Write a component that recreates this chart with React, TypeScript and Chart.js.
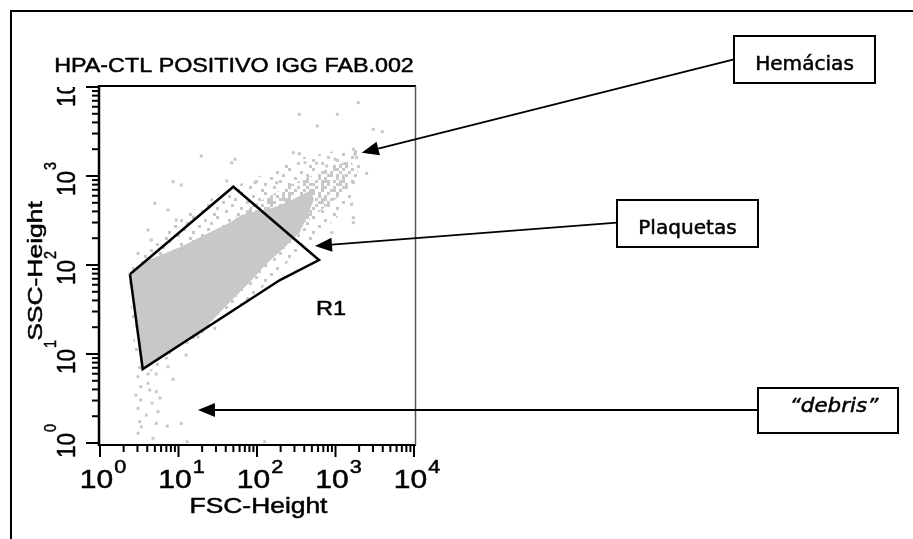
import React, { useEffect, useRef } from "react";
import { Chart, registerables } from "chart.js";

Chart.register(...registerables);

// ---------- texts ----------
const TITLE = "HPA-CTL POSITIVO IGG FAB.002";
const X_TITLE = "FSC-Height";
const Y_TITLE = "SSC-Height";
const GATE_LABEL = "R1";
const TICK_BASE = "10";
const DECADE_EXPONENTS = [0, 1, 2, 3, 4];
const MINOR_MULTIPLIERS = [2, 3, 4, 5, 6, 7, 8, 9];
const AXIS_MIN = 1;
const AXIS_MAX = 10000;

// ---------- gate R1 (FSC, SSC channel values) ----------
const GATE_FSC = [2.41, 49.9, 616, 196, 3.5];
const GATE_SSC = [78.6, 758, 113.8, 67.8, 6.78];
const GATE_LABEL_FSC = 877;
const GATE_LABEL_SSC = 27.4;

// ---------- event cloud ----------
// dense core of the platelet population
const CORE_FSC = [2.45, 4.09, 6.67, 10.9, 17.7, 28.9, 47.1, 63.1, 93.5, 152, 225, 333, 492, 532, 353, 227, 127, 81.4, 48.0, 18.8, 7.8, 3.38];
const CORE_SSC = [75.2, 114, 135, 161, 200, 247, 307, 365, 397, 434, 493, 585, 696, 537, 235, 159, 100, 64.4, 40.4, 17.2, 10.5, 6.61];
// medium-density band towards the red cells
const BAND_FSC = [54.0, 116, 263, 635, 1531, 1935, 1321, 735, 409, 263, 147, 81.4];
const BAND_SSC = [355, 537, 792, 1109, 1513, 1109, 661, 448, 289, 191, 120, 83.4];
// sparse halo around the population
const HALO_FSC = [2.27, 5.02, 14.0, 39.1, 94.3, 353, 1141, 2051, 2051, 1321, 598, 263, 109, 39.1, 14.0, 4.34, 2.87];
const HALO_SSC = [83.4, 191, 394, 696, 950, 1593, 1959, 1959, 902, 415, 217, 114, 52.4, 25.4, 13.6, 6.28, 6.28];
// individual scattered events
const EVENT_FSC = [
  1950, 346, 1054, 586, 3033, 3945, 1686, 1772, 1862, 290, 346, 52.5, 47.6, 409, 576, 773, 986, 1389, 2496, 1257,
  41.1, 94.3, 178, 1686, 1608, 1686, 1686, 895, 19.5, 8.51, 10.85, 4.98, 7.35, 4.09, 4.5, 3.05, 9.37,
  12.5, 17.7, 23.8, 28.9, 8.51, 7.35, 3.05, 4.09, 5.21, 3.3, 4.09, 4.3, 5.21, 3.3, 3.05, 3.89, 5.48, 3.2, 3.36,
  5.21, 7.2, 10.85, 3.05, 4.73, 12.9, 125, 2.87, 4.6, 5.81,
];
const EVENT_SSC = [
  6668, 4933, 4933, 3647, 3350, 3147, 1995, 1754, 1606, 1828, 1782, 1541, 1410, 1410, 1390, 1295, 1541, 1295, 1072, 1000,
  879, 841, 841, 841, 481, 340, 299, 231, 1678, 863, 792, 493, 415, 247, 191, 135, 320,
  9.75, 15.6, 21.2, 19.4, 5.2, 7.2, 5.56, 5.96, 5.96, 4.29, 4.69, 3.94, 3.77, 3.04, 2.45, 2.06, 2.25, 1.74, 1.52,
  1.66, 1.55, 1.66, 1.29, 1.13, 1.03, 1.03, 3.46, 2.81, 3.2,
];

// ---------- annotations ----------
const NOTE_TEXTS = ["Hemácias", "Plaquetas", "\u201Cdebris\u201D"];
const NOTE_TARGET_FSC = [2158, 548, 17.7];
const NOTE_TARGET_SSC = [1828, 163.4, 2.35];

// layout of the annotation boxes (pixels)
const NOTE_BOXES = [
  { x: 734, y: 36, w: 141, h: 47, anchorY: 59.3, baseline: 69.5, italic: false, sx: 1.03, dx: 0 },
  { x: 617, y: 200, w: 141, h: 47, anchorY: 222.7, baseline: 233.5, italic: false, sx: 1.03, dx: 0 },
  { x: 758, y: 388, w: 140, h: 45, anchorY: 410, baseline: 412, italic: true, sx: 1.1, dx: 6 },
];

const GRAY = "#c8c8c8";
const SANS = "'Liberation Sans', Arial, sans-serif";
const NOTE_FONT = "'DejaVu Sans', Verdana, sans-serif";

const BAND_TILE = ["X..X.X", ".X...X", "X..X..", "..X..X", ".X..X.", "X...X."];
const HALO_TILE = ["X.......", "....X...", "......X.", "..X.....", ".....X..", "X.......", "...X....", ".......X"];

function toPoints(xs: number[], ys: number[]) {
  return xs.map((x, i) => ({ x, y: ys[i] }));
}
function closed(pts: { x: number; y: number }[]) {
  return [...pts, pts[0]];
}

function makePattern(ctx: CanvasRenderingContext2D, rows: string[], cell: number, color: string) {
  const c = document.createElement("canvas");
  c.width = rows[0].length * cell;
  c.height = rows.length * cell;
  const g = c.getContext("2d")!;
  g.fillStyle = color;
  rows.forEach((r, j) =>
    r.split("").forEach((ch, i) => {
      if (ch === "X") g.fillRect(i * cell, j * cell, cell, cell);
    })
  );
  return ctx.createPattern(c, "repeat") || color;
}

function paint(ctx: CanvasRenderingContext2D, s: string, x: number, y: number) {
  ctx.fillText(s, x, y);
  ctx.strokeText(s, x, y);
}

function drawText(
  ctx: CanvasRenderingContext2D,
  s: string,
  x: number,
  y: number,
  font: string,
  sx = 1,
  rot = 0,
  align: CanvasTextAlign = "center"
) {
  ctx.save();
  ctx.translate(x, y);
  if (rot) ctx.rotate(rot);
  ctx.scale(sx, 1);
  ctx.font = font;
  ctx.textAlign = align;
  ctx.textBaseline = "alphabetic";
  ctx.fillStyle = "#000";
  ctx.strokeStyle = "#000";
  ctx.lineWidth = 0.5;
  paint(ctx, s, 0, 0);
  ctx.restore();
}

function drawPower(
  ctx: CanvasRenderingContext2D,
  exp: number,
  x: number,
  y: number,
  rot: number,
  sx: number,
  baseFont: string,
  expFont: string,
  raise: number
) {
  ctx.save();
  ctx.translate(x, y);
  if (rot) ctx.rotate(rot);
  ctx.scale(sx, 1);
  ctx.fillStyle = "#000";
  ctx.strokeStyle = "#000";
  ctx.lineWidth = 0.5;
  ctx.textAlign = "left";
  ctx.textBaseline = "alphabetic";
  ctx.font = baseFont;
  const w1 = ctx.measureText(TICK_BASE).width;
  ctx.font = expFont;
  const e = String(exp);
  const w2 = ctx.measureText(e).width;
  const gap = 1;
  const L = w1 + gap + w2;
  ctx.font = baseFont;
  paint(ctx, TICK_BASE, -L / 2, 0);
  ctx.font = expFont;
  paint(ctx, e, -L / 2 + w1 + gap, -raise);
  ctx.restore();
}

function line(ctx: CanvasRenderingContext2D, x1: number, y1: number, x2: number, y2: number) {
  ctx.beginPath();
  ctx.moveTo(x1, y1);
  ctx.lineTo(x2, y2);
  ctx.stroke();
}

const decorPlugin = {
  id: "decor",
  afterDraw(chart: any) {
    const ctx: CanvasRenderingContext2D = chart.ctx;
    const xs = chart.scales.x;
    const ys = chart.scales.y;
    const a = chart.chartArea;
    ctx.save();
    ctx.strokeStyle = "#000";
    ctx.lineCap = "butt";

    // outer frame (open to the right and bottom)
    ctx.lineWidth = 2;
    ctx.beginPath();
    ctx.moveTo(11, chart.height);
    ctx.lineTo(11, 11);
    ctx.lineTo(chart.width, 11);
    ctx.stroke();

    // plot frame
    ctx.lineWidth = 2;
    line(ctx, a.left - 2, a.top - 1, a.right + 2, a.top - 1);
    line(ctx, a.left - 2, a.bottom + 2, a.right + 2, a.bottom + 2);
    ctx.strokeStyle = "#555";
    ctx.lineWidth = 1.5;
    line(ctx, a.right + 1.5, a.top - 1, a.right + 1.5, a.bottom + 2);
    ctx.strokeStyle = "#000";
    ctx.lineWidth = 2.5;
    line(ctx, a.left - 1, a.top - 2, a.left - 1, a.bottom + 3);

    // ticks
    ctx.lineWidth = 2;
    DECADE_EXPONENTS.forEach((e) => {
      const v = Math.pow(10, e);
      const py = ys.getPixelForValue(v);
      const px = xs.getPixelForValue(v);
      line(ctx, a.left - 14, py, a.left - 1, py);
      line(ctx, px, a.bottom + 2, px, a.bottom + 14);
      if (v < AXIS_MAX) {
        MINOR_MULTIPLIERS.forEach((m) => {
          const my = ys.getPixelForValue(m * v);
          const mx = xs.getPixelForValue(m * v);
          line(ctx, a.left - 8, my, a.left - 1, my);
          line(ctx, mx, a.bottom + 2, mx, a.bottom + 9);
        });
      }
    });

    // tick labels (x)
    DECADE_EXPONENTS.forEach((e) => {
      const v = Math.pow(10, e);
      drawPower(ctx, e, xs.getPixelForValue(v) + 3, a.bottom + 45, 0, 1.2, `25px ${SANS}`, `18px ${SANS}`, 15);
    });
    // tick labels (y), clipped at the top of the axis as in the original export
    ctx.save();
    ctx.beginPath();
    ctx.rect(0, a.top, a.left, chart.height);
    ctx.clip();
    DECADE_EXPONENTS.forEach((e) => {
      const v = Math.pow(10, e);
      const py = Math.min(ys.getPixelForValue(v) + 3, a.bottom - 2);
      drawPower(ctx, e, a.left - 25, py, -Math.PI / 2, 0.9, `25px ${SANS}`, `16px ${SANS}`, 19);
    });
    ctx.restore();

    // titles
    drawText(ctx, TITLE, (a.left + a.right) / 2 - 23, a.top - 15, `21px ${SANS}`, 1.11);
    drawText(ctx, X_TITLE, (a.left + a.right) / 2 + 1.5, a.bottom + 70, `22px ${SANS}`, 1.2);
    drawText(ctx, Y_TITLE, a.left - 58, (a.top + a.bottom) / 2 + 6, `21px ${SANS}`, 1.26, -Math.PI / 2);

    // gate label
    drawText(ctx, GATE_LABEL, xs.getPixelForValue(GATE_LABEL_FSC), ys.getPixelForValue(GATE_LABEL_SSC), `21px ${SANS}`, 1.12);

    // annotations
    NOTE_TEXTS.forEach((t, i) => {
      const b = NOTE_BOXES[i];
      ctx.strokeStyle = "#000";
      ctx.lineWidth = 2;
      ctx.strokeRect(b.x, b.y, b.w, b.h);
      drawText(
        ctx,
        t,
        b.x + b.w / 2 + b.dx,
        b.baseline,
        `${b.italic ? "italic " : ""}19.5px ${NOTE_FONT}`,
        b.sx
      );
      const tx = xs.getPixelForValue(NOTE_TARGET_FSC[i]);
      const ty = ys.getPixelForValue(NOTE_TARGET_SSC[i]);
      const sx0 = b.x;
      const sy0 = b.anchorY;
      const dx = sx0 - tx;
      const dy = sy0 - ty;
      const len = Math.hypot(dx, dy);
      const ux = dx / len;
      const uy = dy / len;
      const headLen = 17;
      const headHalf = 7;
      const bx = tx + ux * headLen;
      const by = ty + uy * headLen;
      ctx.strokeStyle = "#000";
      ctx.lineWidth = 1.8;
      line(ctx, sx0, sy0, bx, by);
      ctx.fillStyle = "#000";
      ctx.beginPath();
      ctx.moveTo(tx, ty);
      ctx.lineTo(bx - uy * headHalf, by + ux * headHalf);
      ctx.lineTo(bx + uy * headHalf, by - ux * headHalf);
      ctx.closePath();
      ctx.fill();
    });

    ctx.restore();
  },
};

export default function App() {
  const canvasRef = useRef<HTMLCanvasElement | null>(null);

  useEffect(() => {
    const canvas = canvasRef.current;
    if (!canvas) return;
    const ctx = canvas.getContext("2d")!;
    const bandPattern = makePattern(ctx, BAND_TILE, 3, GRAY);
    const haloPattern = makePattern(ctx, HALO_TILE, 3, GRAY);
    const clear = "rgba(0,0,0,0)";

    const chart = new Chart(ctx, {
      type: "line",
      data: {
        datasets: [
          {
            label: "R1",
            data: closed(toPoints(GATE_FSC, GATE_SSC)),
            showLine: true,
            fill: false,
            borderColor: "#000",
            borderWidth: 2.5,
            pointRadius: 0,
            tension: 0,
            order: 0,
          } as any,
          {
            label: "events",
            data: toPoints(EVENT_FSC, EVENT_SSC),
            showLine: false,
            pointStyle: "rect",
            pointRadius: 2.12,
            pointBackgroundColor: GRAY,
            pointBorderWidth: 0,
            pointBorderColor: clear,
            borderColor: clear,
            order: 1,
          } as any,
          {
            label: "core",
            data: closed(toPoints(CORE_FSC, CORE_SSC)),
            showLine: true,
            fill: "shape",
            backgroundColor: GRAY,
            borderColor: clear,
            borderWidth: 1,
            pointRadius: 0,
            tension: 0,
            order: 2,
          } as any,
          {
            label: "band",
            data: closed(toPoints(BAND_FSC, BAND_SSC)),
            showLine: true,
            fill: "shape",
            backgroundColor: bandPattern,
            borderColor: clear,
            borderWidth: 1,
            pointRadius: 0,
            tension: 0,
            order: 3,
          } as any,
          {
            label: "halo",
            data: closed(toPoints(HALO_FSC, HALO_SSC)),
            showLine: true,
            fill: "shape",
            backgroundColor: haloPattern,
            borderColor: clear,
            borderWidth: 1,
            pointRadius: 0,
            tension: 0,
            order: 4,
          } as any,
        ],
      },
      options: {
        responsive: false,
        animation: false,
        events: [],
        layout: { padding: { left: 100, top: 87, right: 499, bottom: 96 } },
        scales: {
          x: { type: "logarithmic", min: AXIS_MIN, max: AXIS_MAX, display: false },
          y: { type: "logarithmic", min: AXIS_MIN, max: AXIS_MAX, display: false },
        },
        plugins: {
          legend: { display: false },
          tooltip: { enabled: false },
          title: { display: false },
        },
      },
      plugins: [decorPlugin],
    });
    return () => chart.destroy();
  }, []);

  return (
    <div style={{ position: "fixed", left: 0, top: 0, width: 913, height: 539, background: "#fff" }}>
      <canvas ref={canvasRef} width={913} height={539} style={{ display: "block" }} />
    </div>
  );
}
